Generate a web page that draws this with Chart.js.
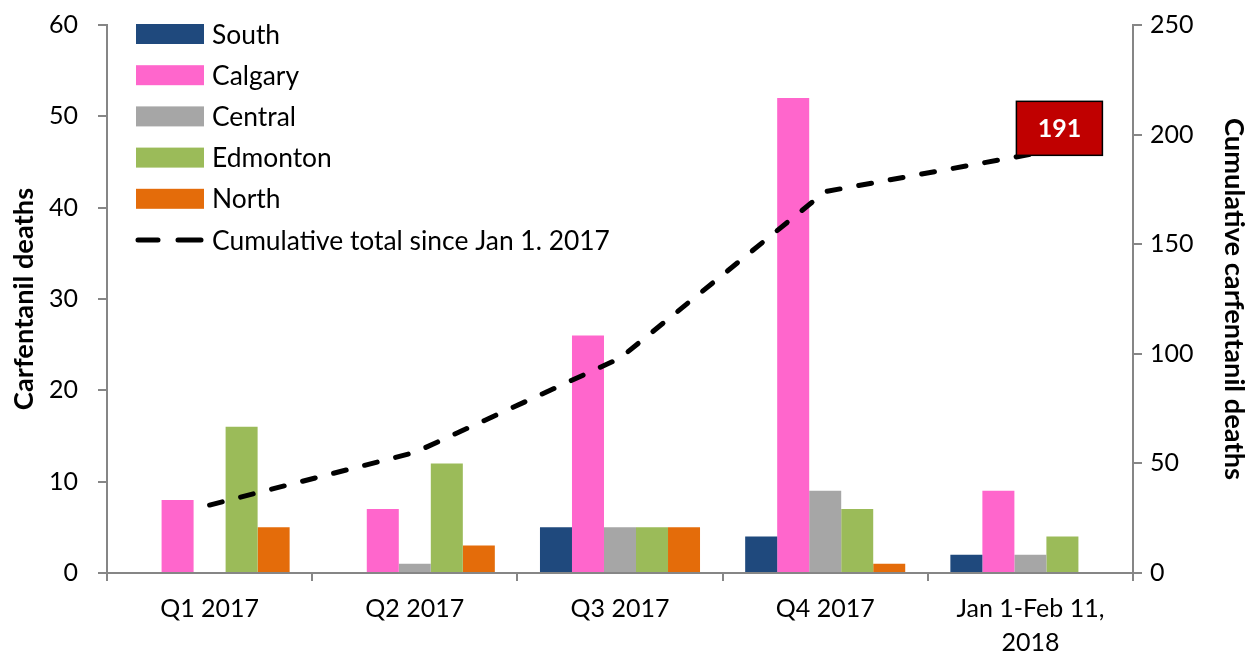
<!DOCTYPE html>
<html>
<head>
<meta charset="utf-8">
<script src="https://cdn.jsdelivr.net/npm/chart.js@4"></script>
<style>
  html, body { margin: 0; padding: 0; background: #fff; }
  #wrap { width: 1247px; height: 656px; position: relative; }
</style>
</head>
<body>
<div id="wrap"><canvas id="c" width="1247" height="656"></canvas></div>
<script>
// ---- data ----
const categories = ['Q1 2017', 'Q2 2017', 'Q3 2017', 'Q4 2017', ['Jan 1-Feb 11,', '2018']];
const south    = [0, 0, 5, 4, 2];
const calgary  = [8, 7, 26, 52, 9];
const central  = [0, 1, 5, 9, 2];
const edmonton = [16, 12, 5, 7, 4];
const north    = [5, 3, 5, 1, 0];
const cumulative = [31, 55, 98, 174, 191];
const leftTicks  = [0, 10, 20, 30, 40, 50, 60];
const rightTicks = [0, 50, 100, 150, 200, 250];
const seriesNames = ['South', 'Calgary', 'Central', 'Edmonton', 'North', 'Cumulative total since Jan 1. 2017'];
const leftTitle = 'Carfentanil deaths';
const rightTitle = 'Cumulative carfentanil deaths';

const FONT = 'Lato, "Liberation Sans", sans-serif';
const AXIS = '#868686';
const colors = ['#1F497D', '#FF66CC', '#A6A6A6', '#9BBB59', '#E46C0A'];

// font sizes fitted so Lato text occupies the same width as the reference text
function fitSize(text, weight, target) {
  const m = document.createElement('canvas').getContext('2d');
  m.font = weight + ' 100px ' + FONT;
  return Math.round(100 * target / m.measureText(text).width * 10) / 10;
}
const legendSize = Math.min(27, fitSize(seriesNames[5], 'normal', 398));
const titleSize  = Math.min(28, fitSize(rightTitle, 'bold', 362));
const tickSize = 25;

const barSets = [south, calgary, central, edmonton, north].map((d, i) => ({
  type: 'bar',
  label: seriesNames[i],
  data: d,
  backgroundColor: colors[i],
  borderWidth: 0,
  yAxisID: 'y',
  order: 2,
  categoryPercentage: 0.78,
  barPercentage: 1.0
}));

const lineSet = {
  type: 'line',
  label: seriesNames[5],
  data: cumulative,
  borderColor: '#000',
  borderWidth: 5,
  borderDash: [13, 19],
  borderCapStyle: 'round',
  pointRadius: 0,
  tension: 0,
  fill: false,
  yAxisID: 'y2',
  order: 1
};

const customDraw = {
  id: 'customDraw',
  afterDatasetsDraw(chart) {
    const ctx = chart.ctx;
    ctx.save();
    // legend
    const lx = 136, lw = 68, ly0 = 34, step = 41.2;
    ctx.font = legendSize + 'px ' + FONT;
    ctx.textBaseline = 'middle';
    ctx.textAlign = 'left';
    for (let i = 0; i < 6; i++) {
      const y = ly0 + i * step;
      if (i < 5) {
        ctx.fillStyle = colors[i];
        ctx.fillRect(lx, y - 10, lw, 20);
      } else {
        ctx.strokeStyle = '#000';
        ctx.lineWidth = 5;
        ctx.lineCap = 'round';
        ctx.beginPath();
        ctx.moveTo(lx + 2, y); ctx.lineTo(lx + 22, y);
        ctx.moveTo(lx + 42, y); ctx.lineTo(lx + 65, y);
        ctx.stroke();
      }
      ctx.fillStyle = '#000';
      ctx.fillText(seriesNames[i], 212, y + 1);
    }
    // end label
    const meta = chart.getDatasetMeta(chart.data.datasets.length - 1);
    const last = meta.data[meta.data.length - 1];
    const bx = last.x - 14, by = last.y - 53, bw = 86, bh = 54;
    ctx.fillStyle = '#C00000';
    ctx.fillRect(bx, by, bw, bh);
    ctx.strokeStyle = '#000';
    ctx.lineWidth = 1.5;
    ctx.strokeRect(bx, by, bw, bh);
    ctx.fillStyle = '#fff';
    ctx.font = 'bold 25px ' + FONT;
    ctx.textAlign = 'center';
    ctx.fillText(String(cumulative[cumulative.length - 1]), bx + bw / 2, by + bh / 2 + 1);
    ctx.restore();
  }
};

new Chart(document.getElementById('c'), {
  data: { labels: categories, datasets: [...barSets, lineSet] },
  options: {
    responsive: false,
    animation: false,
    layout: { padding: { top: 25, left: 0, right: 0, bottom: 0 } },
    plugins: { legend: { display: false }, tooltip: { enabled: false } },
    scales: {
      x: {
        offset: true,
        grid: { offset: true, drawOnChartArea: false, drawTicks: true, tickLength: 8, color: AXIS, lineWidth: 2 },
        border: { color: AXIS, width: 2 },
        ticks: { color: '#000', font: { family: FONT, size: tickSize, lineHeight: 1.35 }, padding: 11, maxRotation: 0, autoSkip: false },
        afterFit(s) { s.height = 83; s.paddingLeft = 0; s.paddingRight = 0; }
      },
      y: {
        position: 'left',
        min: 0, max: 60,
        afterBuildTicks(s) { s.ticks = leftTicks.map(v => ({ value: v })); },
        grid: { drawOnChartArea: false, drawTicks: true, tickLength: 9, color: AXIS, lineWidth: 2 },
        border: { color: AXIS, width: 2 },
        ticks: { color: '#000', font: { family: FONT, size: tickSize }, padding: 20 },
        title: { display: true, text: leftTitle, color: '#000', font: { family: FONT, size: titleSize, weight: 'bold', lineHeight: 1.0 }, padding: { top: 11, bottom: 0 } },
        afterFit(s) { s.width = 107; s.paddingTop = 0; s.paddingBottom = 0; }
      },
      y2: {
        position: 'right',
        min: 0, max: 250,
        afterBuildTicks(s) { s.ticks = rightTicks.map(v => ({ value: v })); },
        grid: { drawOnChartArea: false, drawTicks: true, tickLength: 9, color: AXIS, lineWidth: 2 },
        border: { color: AXIS, width: 2 },
        ticks: { color: '#000', font: { family: FONT, size: tickSize }, padding: 8 },
        title: { display: true, text: rightTitle, color: '#000', font: { family: FONT, size: titleSize, weight: 'bold', lineHeight: 1.0 }, padding: { top: 0, bottom: 0 } },
        afterFit(s) { s.width = 114; s.paddingTop = 0; s.paddingBottom = 0; }
      }
    }
  },
  plugins: [customDraw]
});
</script>
</body>
</html>
